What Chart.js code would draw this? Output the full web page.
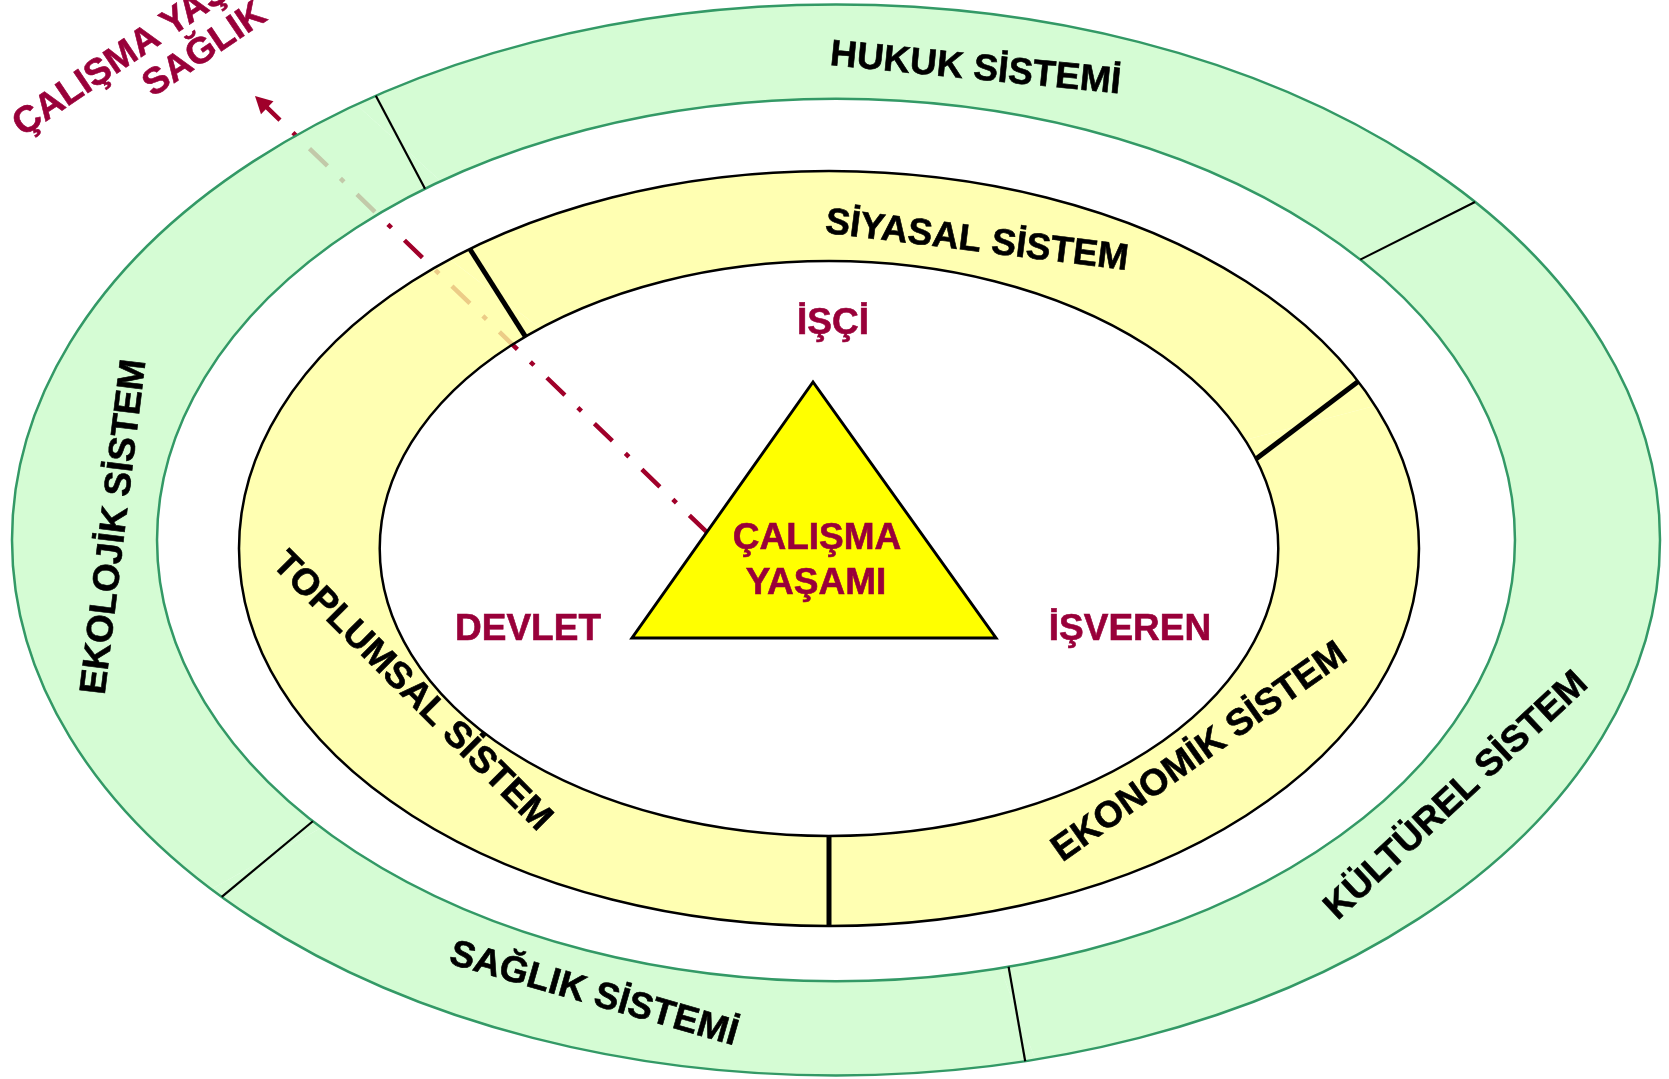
<!DOCTYPE html>
<html lang="tr">
<head>
<meta charset="utf-8">
<script src="https://cdn.jsdelivr.net/npm/chart.js@4.4.0/dist/chart.umd.min.js"></script>
<style>
  html, body { margin: 0; padding: 0; background: #fff; }
  #sistemler { display: block; }
</style>
</head>
<body>
<canvas id="sistemler" width="1669" height="1079"></canvas>
<script>
// dis halka: sistemler ve kapladiklari aci (derece)
const disSistemler = ['HUKUK SİSTEMİ', 'KÜLTÜREL SİSTEM', 'SAĞLIK SİSTEMİ', 'EKOLOJİK SİSTEM'];
const disAcilar = [86.3, 115.3, 63.3, 95.1];

// ic halka
const icSistemler = ['SİYASAL SİSTEM', 'EKONOMİK SİSTEM', 'TOPLUMSAL SİSTEM'];
const icAcilar = [107.8, 112.2, 140];

// orta ucgen ve taraflar
const taraflar = ['İŞÇİ', 'DEVLET', 'İŞVEREN'];
const merkezYazi = ['ÇALIŞMA', 'YAŞAMI'];
const okYazisi = ['ÇALIŞMA YAŞAMINDA', 'SAĞLIK'];

// cizim ayarlari (konum / stil)
// yer: [parametrik aci, yazi donmesi, orta cizgiye gore uzaklik]
const halkalar = [
  { cx: 836, cy: 540, rx: 824, ry: 535.5, oran: 0.824, baslangic: -125.6,
    dolgu: 'rgba(203,251,201,0.8)', kenar: '#339966', kenarKalin: 2.5,
    bolucuKalin: 2.2, egim: [-3.3, -0.3, -1.45, 2.2],
    adlar: disSistemler,
    yer: [[-79.1, 5.6, 0.982], [32.4, -43, 0.978], [109.1, 16, 0.985], [181.6, -83, 0.96]] },
  { cx: 829, cy: 548.5, rx: 590, ry: 377.5, oran: 0.7615, baslangic: -130,
    dolgu: 'rgba(255,255,159,0.8)', kenar: '#000', kenarKalin: 2.5,
    bolucuKalin: 5, egim: [-5, 8.1, 0],
    adlar: icSistemler,
    yer: [[-72.9, 7, 0.967], [40.7, -35.3, 0.941], [151.8, 45, 0.911]] }
];
const yaziFont = 'bold 37px "Liberation Sans", Arial, sans-serif';
const bordo = '#99003a';
const ucgen = [[813, 382], [632, 638], [996, 638]];
const yazilar = [[833, 334], [528, 639.5], [1130, 639.5]];
const merkezSatir = [[817, 548.5], [816, 593.5]];
const ok = { uc: [255, 96], kuyruk: [744, 568], renk: '#a0002a', kalin: 4.5 };
const okYazisiYer = { x: 205, y: 50, aci: -34, satir: 40 };

const icKesme = halkalar[0].oran * halkalar[1].oran;

function nokta(h, el, a, r) {
  const k = r / el.outerRadius;
  return [h.cx + k * h.rx * Math.cos(a), h.cy + k * h.ry * Math.sin(a)];
}

function kalinYaz(ctx, yazi, x, y) {
  ctx.fillText(yazi, x, y);
  ctx.strokeText(yazi, x, y);
}

const halkaCizimi = {
  id: 'halkaCizimi',
  beforeDatasetsDraw(chart) {
    // kesik-noktali ok (halkalarin altinda)
    const ctx = chart.ctx;
    const [tx, ty] = ok.uc;
    const dx = ok.kuyruk[0] - tx, dy = ok.kuyruk[1] - ty;
    const L = Math.hypot(dx, dy), ux = dx / L, uy = dy / L;
    ctx.save();
    ctx.strokeStyle = ok.renk;
    ctx.lineWidth = ok.kalin;
    ctx.lineCap = 'butt';
    ctx.setLineDash([25, 18, 5, 18]);
    ctx.beginPath();
    ctx.moveTo(tx + ux * 9.7, ty + uy * 9.7);
    ctx.lineTo(ok.kuyruk[0], ok.kuyruk[1]);
    ctx.stroke();
    ctx.setLineDash([]);
    ctx.fillStyle = ok.renk;
    ctx.beginPath();
    ctx.moveTo(tx, ty);
    ctx.lineTo(tx + ux * 17 - uy * 9, ty + uy * 17 + ux * 9);
    ctx.lineTo(tx + ux * 17 + uy * 9, ty + uy * 17 - ux * 9);
    ctx.closePath();
    ctx.fill();
    ctx.restore();
  },
  beforeDatasetDraw(chart, args) {
    const h = halkalar[args.index];
    const el = args.meta.data[0];
    const ctx = chart.ctx;
    ctx.save();
    ctx.translate(h.cx, h.cy);
    ctx.scale(h.rx / el.outerRadius, h.ry / el.outerRadius);
    ctx.translate(-el.x, -el.y);
  },
  afterDatasetDraw(chart, args) {
    const ctx = chart.ctx;
    ctx.restore();
    const h = halkalar[args.index];
    const arcs = args.meta.data;
    const el = arcs[0];
    const k = el.innerRadius / el.outerRadius;
    ctx.save();
    ctx.strokeStyle = h.kenar;
    ctx.lineWidth = h.kenarKalin;
    ctx.beginPath();
    ctx.ellipse(h.cx, h.cy, h.rx, h.ry, 0, 0, Math.PI * 2);
    ctx.moveTo(h.cx + h.rx * k, h.cy);
    ctx.ellipse(h.cx, h.cy, h.rx * k, h.ry * k, 0, 0, Math.PI * 2);
    ctx.stroke();
    // bolucu cizgiler
    ctx.strokeStyle = '#000';
    ctx.lineWidth = h.bolucuKalin;
    arcs.forEach((a, j) => {
      const e = (h.egim[j] || 0) * Math.PI / 360;
      const p1 = nokta(h, a, a.startAngle + e, a.innerRadius);
      const p2 = nokta(h, a, a.startAngle - e, a.outerRadius);
      ctx.beginPath();
      ctx.moveTo(p1[0], p1[1]);
      ctx.lineTo(p2[0], p2[1]);
      ctx.stroke();
    });
    // sistem adlari
    ctx.fillStyle = '#000';
    ctx.strokeStyle = '#000';
    ctx.lineWidth = 0.6;
    ctx.font = yaziFont;
    ctx.textAlign = 'center';
    ctx.textBaseline = 'middle';
    h.adlar.forEach((ad, j) => {
      const [t, d, f] = h.yer[j];
      const p = nokta(h, el, t * Math.PI / 180, f * (el.outerRadius + el.innerRadius) / 2);
      ctx.save();
      ctx.translate(p[0], p[1]);
      ctx.rotate(d * Math.PI / 180);
      kalinYaz(ctx, ad, 0, 0);
      ctx.restore();
    });
    ctx.restore();
  },
  afterDatasetsDraw(chart) {
    const ctx = chart.ctx;
    ctx.save();
    // ucgen
    ctx.beginPath();
    ucgen.forEach((p, i) => (i ? ctx.lineTo(p[0], p[1]) : ctx.moveTo(p[0], p[1])));
    ctx.closePath();
    ctx.fillStyle = '#ffff00';
    ctx.fill();
    ctx.lineWidth = 3;
    ctx.lineJoin = 'miter';
    ctx.strokeStyle = '#000';
    ctx.stroke();
    // yazilar
    ctx.font = yaziFont;
    ctx.fillStyle = bordo;
    ctx.strokeStyle = bordo;
    ctx.lineWidth = 0.6;
    ctx.textAlign = 'center';
    ctx.textBaseline = 'alphabetic';
    taraflar.forEach((t, i) => kalinYaz(ctx, t, yazilar[i][0], yazilar[i][1]));
    merkezYazi.forEach((t, i) => kalinYaz(ctx, t, merkezSatir[i][0], merkezSatir[i][1]));
    // sol ustteki egik yazi
    ctx.translate(okYazisiYer.x, okYazisiYer.y);
    ctx.rotate(okYazisiYer.aci * Math.PI / 180);
    ctx.textBaseline = 'middle';
    kalinYaz(ctx, okYazisi[0], 0, -okYazisiYer.satir);
    kalinYaz(ctx, okYazisi[1], 0, 0);
    ctx.restore();
  }
};

new Chart(document.getElementById('sistemler'), {
  type: 'doughnut',
  data: {
    labels: disSistemler,
    datasets: [
      { label: 'Dış', data: disAcilar, rotation: halkalar[0].baslangic + 90,
        backgroundColor: halkalar[0].dolgu, borderWidth: 0, weight: 1 - halkalar[0].oran, clip: false },
      { label: 'İç', data: icAcilar, rotation: halkalar[1].baslangic + 90,
        backgroundColor: halkalar[1].dolgu, borderWidth: 0, weight: halkalar[0].oran - icKesme, clip: false }
    ]
  },
  options: {
    responsive: false,
    animation: false,
    events: [],
    cutout: (icKesme * 100) + '%',
    layout: { padding: 0 },
    plugins: { legend: { display: false }, tooltip: { enabled: false } }
  },
  plugins: [halkaCizimi]
});
</script>
</body>
</html>
